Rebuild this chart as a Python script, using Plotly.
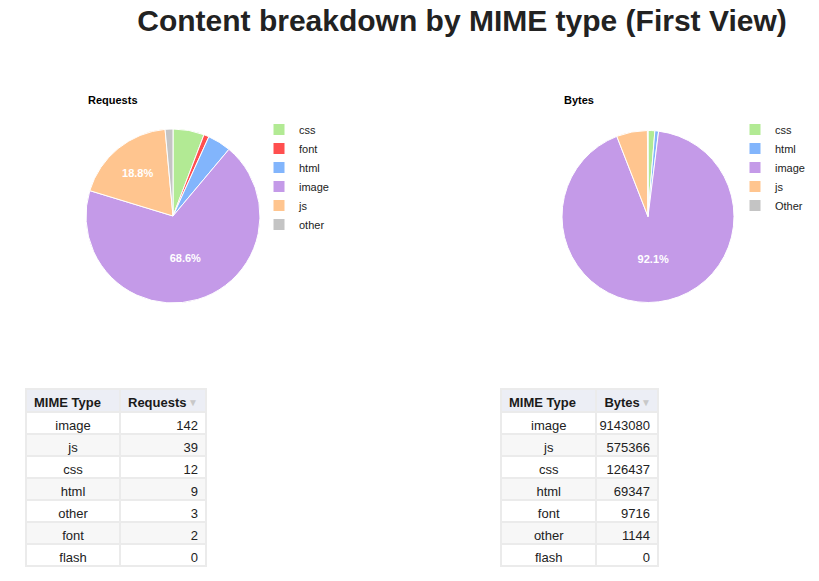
import plotly.graph_objects as go

# ---- data ----
req_labels = ["css", "font", "html", "image", "js", "other"]
req_values = [12, 2, 9, 142, 39, 3]
req_colors = ["#B2EA94", "#FF4F4F", "#82B5FC", "#C49AE8", "#FFC58F", "#C4C4C4"]

bytes_labels = ["css", "html", "image", "js", "Other"]
bytes_values = [126437, 69347, 9143080, 575366, 10860]
bytes_colors = ["#B2EA94", "#82B5FC", "#C49AE8", "#FFC58F", "#C4C4C4"]

tbl_req_types = ["image", "js", "css", "html", "other", "font", "flash"]
tbl_req_values = [142, 39, 12, 9, 3, 2, 0]
tbl_bytes_types = ["image", "js", "css", "html", "font", "other", "flash"]
tbl_bytes_values = [9143080, 575366, 126437, 69347, 9716, 1144, 0]

W, H = 819, 581
FONT = "Arial, Liberation Sans, sans-serif"


def px_x(v):
    return v / W


def px_y(v):
    return 1 - v / H


def slice_text(values, threshold=0.1):
    total = float(sum(values))
    return ["%.1f%%" % (100 * v / total) if v / total >= threshold else "" for v in values]


fig = go.Figure()

fig.add_trace(go.Pie(
    labels=req_labels, values=req_values, sort=False, direction="clockwise",
    marker=dict(colors=req_colors, line=dict(color="white", width=1)),
    text=slice_text(req_values), textinfo="text", textposition="inside",
    insidetextorientation="horizontal",
    insidetextfont=dict(color="white", size=11, family=FONT, weight="bold"),
    domain=dict(x=[px_x(86), px_x(260)], y=[px_y(303), px_y(129)]),
    legend="legend", hoverinfo="label+value+percent",
))

# pie legend entries are shared by label across traces; a zero-width space keeps
# the second legend's entries separate while displaying the same text
fig.add_trace(go.Pie(
    labels=[lbl + "\u200b" for lbl in bytes_labels], values=bytes_values,
    sort=False, direction="clockwise",
    marker=dict(colors=bytes_colors, line=dict(color="white", width=1)),
    text=slice_text(bytes_values), textinfo="text", textposition="inside",
    insidetextorientation="horizontal",
    insidetextfont=dict(color="white", size=11, family=FONT, weight="bold"),
    domain=dict(x=[px_x(562), px_x(734)], y=[px_y(303), px_y(130)]),
    legend="legend2", hoverinfo="label+value+percent",
))

line_col = "#EBEBEB"
hdr_fill = "#ECEEF5"
row_fills = ["white" if i % 2 == 0 else "#F7F7F7" for i in range(len(tbl_req_types))]

hdr_font = dict(family=FONT, size=13, color="#1A1A1A", weight="bold")
cell_font = dict(family=FONT, size=13, color="#222")

fig.add_trace(go.Table(
    domain=dict(x=[px_x(26), px_x(206)], y=[px_y(578), px_y(389)]),
    columnwidth=[94, 86],
    header=dict(values=["MIME Type", "Requests"],
                align="left", height=23, fill_color=hdr_fill,
                line=dict(color=line_col, width=2), font=hdr_font),
    cells=dict(values=[tbl_req_types, tbl_req_values],
               align=["center", "right"], height=22,
               fill_color=[row_fills, row_fills],
               line=dict(color=line_col, width=2), font=cell_font),
))

fig.add_trace(go.Table(
    domain=dict(x=[px_x(501), px_x(659)], y=[px_y(578), px_y(389)]),
    columnwidth=[96, 62],
    header=dict(values=["MIME Type", "Bytes"],
                align="left", height=23, fill_color=hdr_fill,
                line=dict(color=line_col, width=2), font=hdr_font),
    cells=dict(values=[tbl_bytes_types, tbl_bytes_values],
               align=["center", "right"], height=22,
               fill_color=[row_fills, row_fills],
               line=dict(color=line_col, width=2), font=cell_font),
))

legend_style = dict(font=dict(family=FONT, size=11, color="#222"),
                    xanchor="left", yanchor="top", bgcolor="rgba(0,0,0,0)",
                    tracegroupgap=0, itemclick=False)


def note(text, x, y, size, color, anchor="left"):
    return dict(text=text, x=px_x(x), y=px_y(y), xref="paper", yref="paper",
                xanchor=anchor, yanchor="middle", showarrow=False,
                font=dict(family=FONT, size=size, color=color))


fig.update_layout(
    width=W, height=H,
    margin=dict(l=0, r=0, t=0, b=0),
    paper_bgcolor="white", plot_bgcolor="white",
    font=dict(family=FONT),
    title=dict(text="<b>Content breakdown by MIME type (First View)</b>",
               x=px_x(462), xanchor="center", y=px_y(20), yanchor="middle",
               font=dict(family=FONT, size=30, color="#222")),
    legend=dict(x=px_x(259), y=px_y(115), **legend_style),
    legend2=dict(x=px_x(735), y=px_y(115), **legend_style),
    annotations=[
        note("<b>Requests</b>", 86, 100, 11, "#000"),
        note("<b>Bytes</b>", 562, 100, 11, "#000"),
        note("▼", 193, 402, 10, "#C8C8C8", "center"),
        note("▼", 646, 402, 10, "#C8C8C8", "center"),
    ],
)

fig.write_html("out.html")
